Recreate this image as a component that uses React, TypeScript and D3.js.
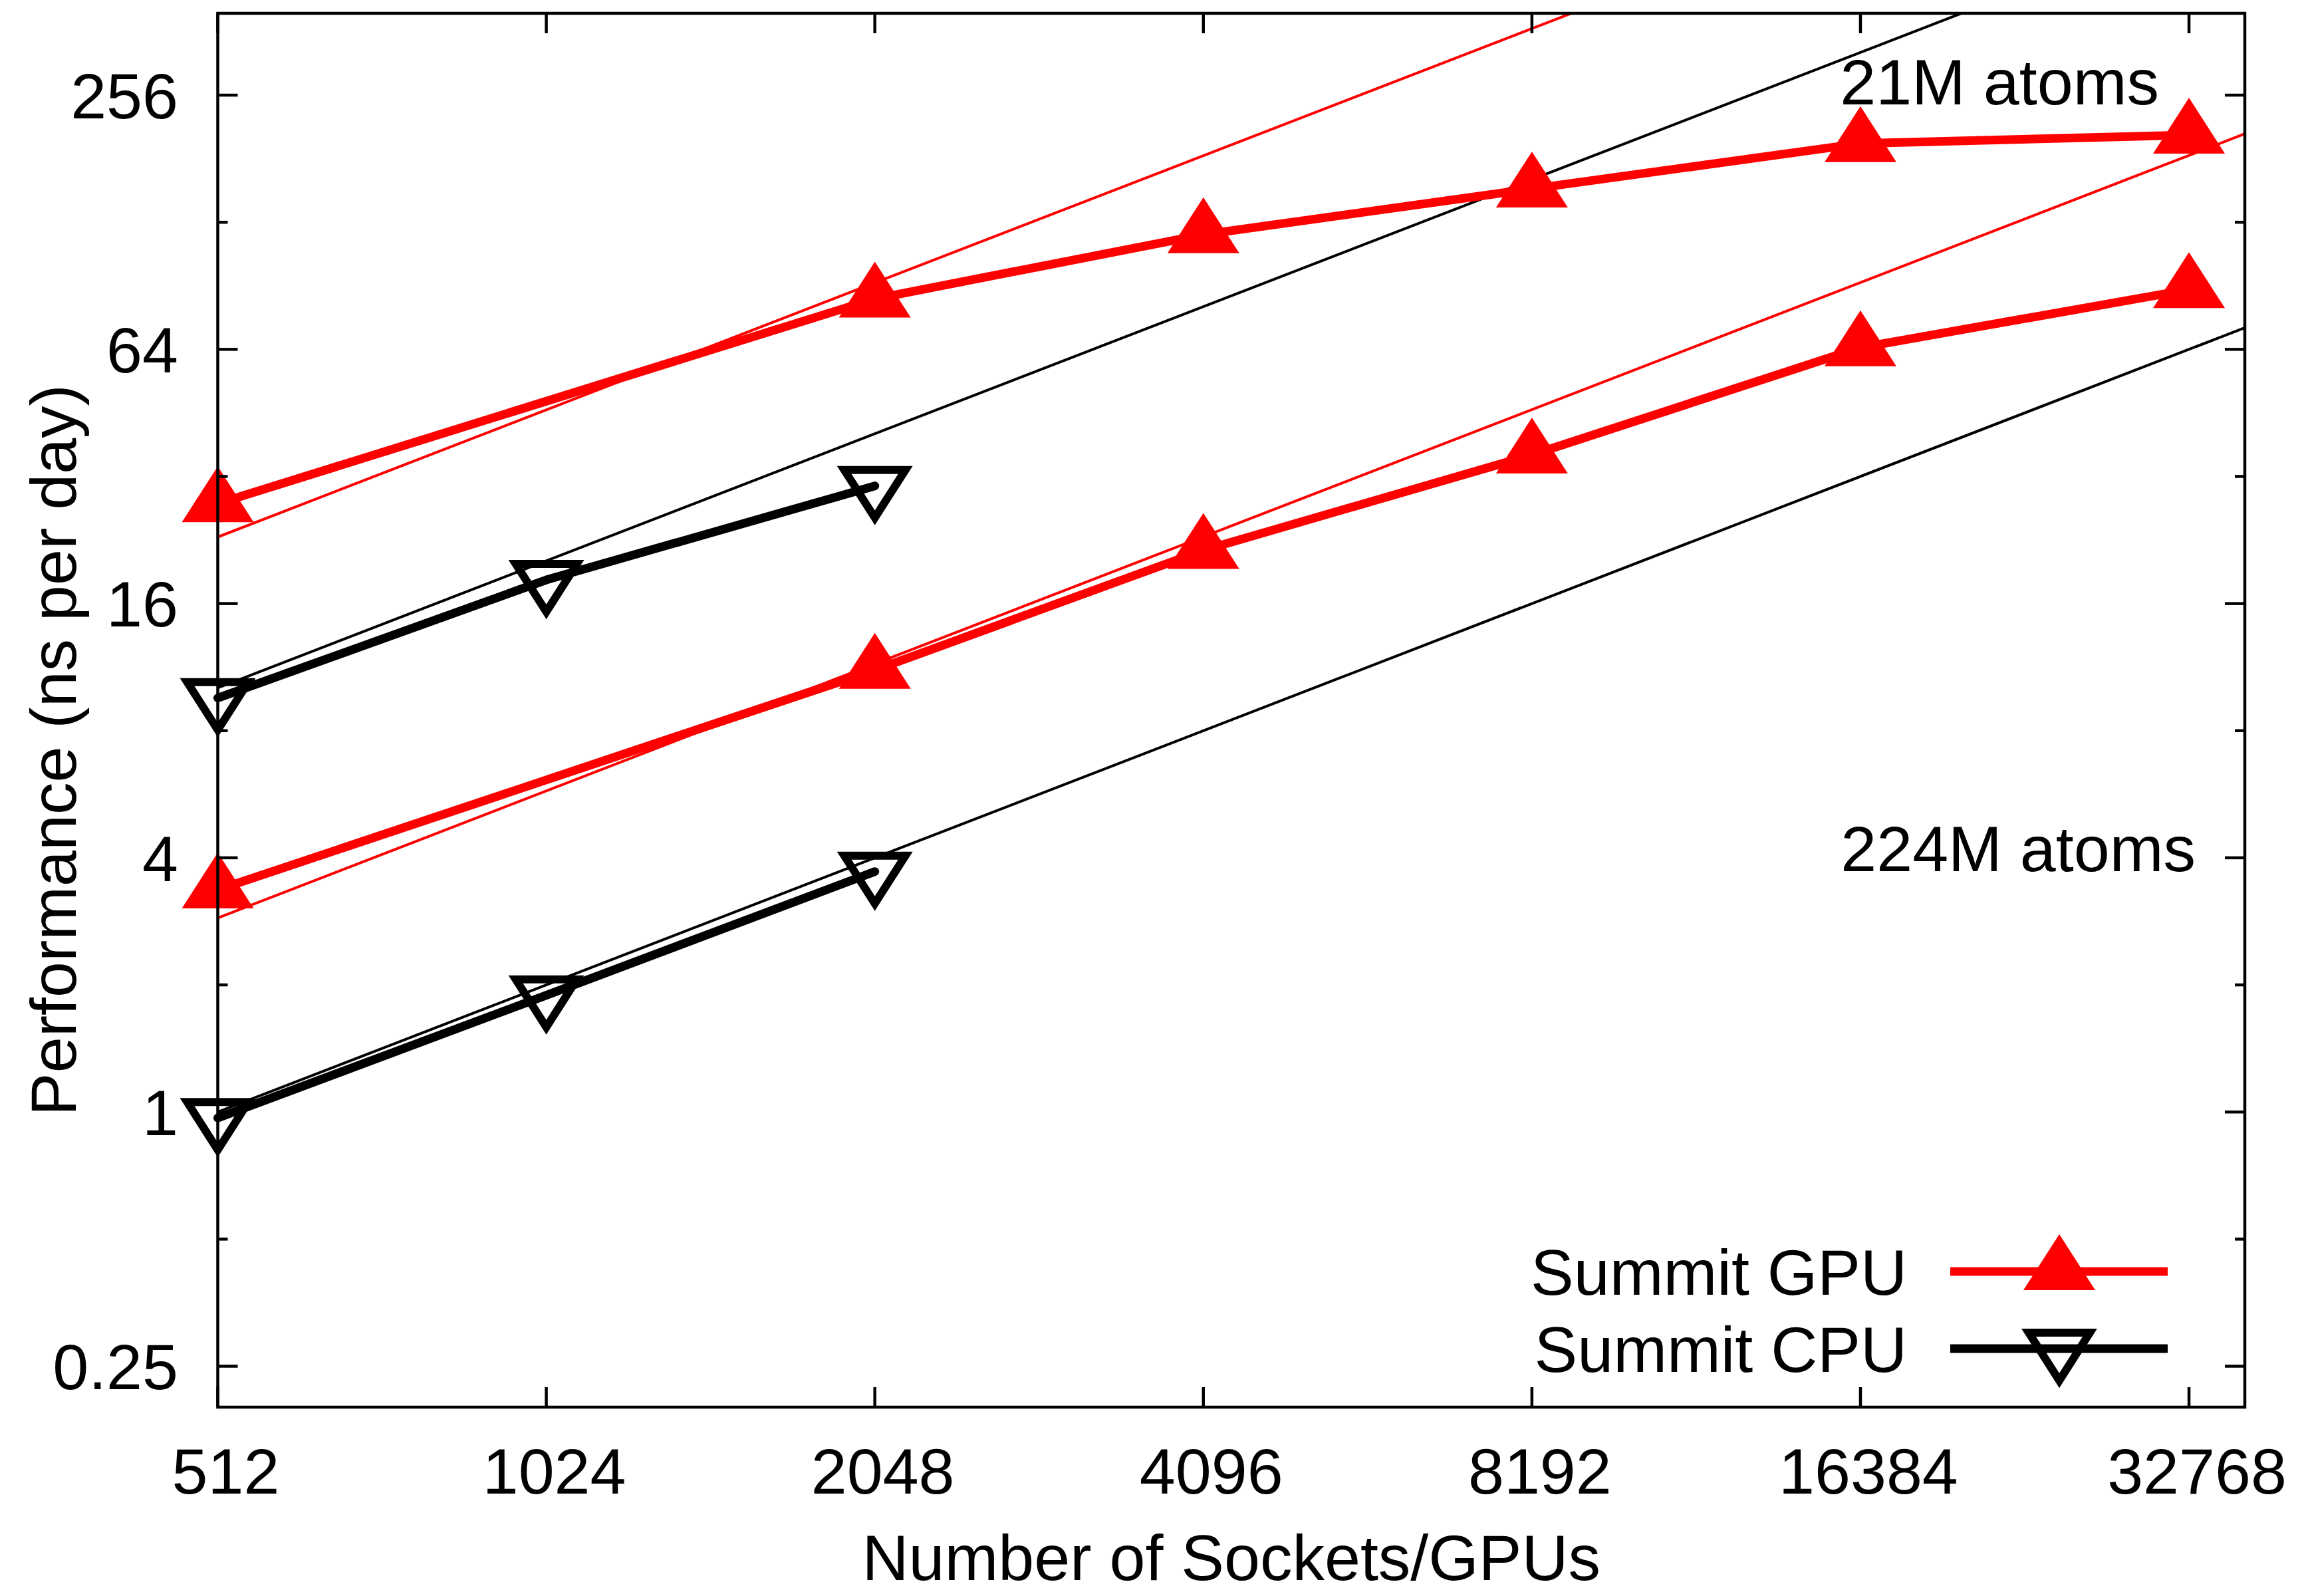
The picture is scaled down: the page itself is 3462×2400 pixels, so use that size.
import React, { useEffect, useRef } from 'react';
import * as d3 from 'd3';

const WIDTH = 3462;
const HEIGHT = 2400;

// measured series (ns per day)
const socketsGpu21M = [512, 2048, 4096, 8192, 16384, 32768];
const gpu21M = [27.6, 84.3, 119.7, 153.6, 196.7, 206];
const socketsCpu21M = [512, 1024, 2048];
const cpu21M = [9.56, 18.2, 30.4];
const socketsGpu224M = [512, 2048, 4096, 8192, 16384, 32768];
const gpu224M = [3.36, 11.13, 21.4, 36.0, 64.6, 88.7];
const socketsCpu224M = [512, 1024, 2048];
const cpu224M = [0.968, 1.89, 3.71];

// perfect scaling reference lines, value at 512
const idealAt512 = [23, 10.1, 2.88, 1.0];
const idealColors = ['#ff0000', '#000000', '#ff0000', '#000000'];

const xTicks = [512, 1024, 2048, 4096, 8192, 16384, 32768];
const yTicks = [0.25, 1, 4, 16, 64, 256];
const yMinorTicks = [0.5, 2, 8, 32, 128];
const xDomain = [512, 36864];
const yDomain = [0.2, 400];

const legendLabels = ['Summit GPU', 'Summit CPU'];
const FONT = '"Liberation Sans", Arial, Helvetica, sans-serif';
const FS = 97;

function ScalingChart(): JSX.Element {
	const ref = useRef<SVGSVGElement | null>(null);
	useEffect(() => {
		if (!ref.current) return;
		const svg = d3.select(ref.current);
		svg.selectAll('*').remove();
		const left = 327.5, right = 3376, top = 20, bottom = 2116;
		const x = d3.scaleLog().base(2).domain(xDomain).range([left, right]);
		const y = d3.scaleLog().base(2).domain(yDomain).range([bottom, top]);
		const lw = 4.5;
		const half = FS * 0.358;

		svg.append('defs').append('clipPath').attr('id', 'plotclip')
			.append('rect').attr('x', left).attr('y', top).attr('width', right - left).attr('height', bottom - top);

		const up = (cx: number, cy: number, w = 54, h = 84) =>
			`M${cx},${cy - (2 * h) / 3}L${cx - w},${cy + h / 3}L${cx + w},${cy + h / 3}Z`;
		const down = (cx: number, cy: number, w = 46, h = 72) =>
			`M${cx},${cy + (2 * h) / 3}L${cx - w},${cy - h / 3}L${cx + w},${cy - h / 3}Z`;

		// ideal lines
		const gi = svg.append('g').attr('clip-path', 'url(#plotclip)');
		idealAt512.forEach((v0, i) => {
			const pts = xDomain.map(n => [n, (v0 * n) / 512]);
			gi.append('path')
				.attr('d', d3.line<number[]>().x(d => x(d[0])).y(d => y(d[1]))(pts) as any)
				.attr('fill', 'none').attr('stroke', idealColors[i]).attr('stroke-width', 4);
		});

		const series = [
			{ xs: socketsGpu21M, ys: gpu21M, color: '#ff0000', gpu: true },
			{ xs: socketsCpu21M, ys: cpu21M, color: '#000000', gpu: false },
			{ xs: socketsGpu224M, ys: gpu224M, color: '#ff0000', gpu: true },
			{ xs: socketsCpu224M, ys: cpu224M, color: '#000000', gpu: false },
		];
		const g = svg.append('g');
		series.forEach(s => {
			const pts = s.xs.map((n, i) => [n, s.ys[i]]);
			g.append('path')
				.attr('d', d3.line<number[]>().x(d => x(d[0])).y(d => y(d[1]))(pts) as any)
				.attr('fill', 'none').attr('stroke', s.color).attr('stroke-width', 13)
				.attr('stroke-linecap', 'round').attr('stroke-linejoin', 'round');
		});
		series.forEach(s => {
			s.xs.forEach((n, i) => {
				if (s.gpu) {
					g.append('path').attr('d', up(x(n), y(s.ys[i]))).attr('fill', s.color);
				} else {
					g.append('path').attr('d', down(x(n), y(s.ys[i])))
						.attr('fill', 'none').attr('stroke', s.color).attr('stroke-width', 12)
						.attr('stroke-linejoin', 'miter');
				}
			});
		});

		// border and ticks
		const ax = svg.append('g').attr('stroke', '#000').attr('stroke-width', lw);
		ax.append('rect').attr('x', left).attr('y', top).attr('width', right - left).attr('height', bottom - top).attr('fill', 'none');
		xTicks.forEach(t => {
			ax.append('line').attr('x1', x(t)).attr('x2', x(t)).attr('y1', bottom).attr('y2', bottom - 30);
			ax.append('line').attr('x1', x(t)).attr('x2', x(t)).attr('y1', top).attr('y2', top + 30);
		});
		yTicks.forEach(t => {
			ax.append('line').attr('x1', left).attr('x2', left + 30).attr('y1', y(t)).attr('y2', y(t));
			ax.append('line').attr('x1', right).attr('x2', right - 30).attr('y1', y(t)).attr('y2', y(t));
		});
		yMinorTicks.forEach(t => {
			ax.append('line').attr('x1', left).attr('x2', left + 15).attr('y1', y(t)).attr('y2', y(t));
			ax.append('line').attr('x1', right).attr('x2', right - 15).attr('y1', y(t)).attr('y2', y(t));
		});

		const txt = svg.append('g').attr('font-family', FONT).attr('font-size', FS).attr('fill', '#000');
		txt.selectAll('text.xt').data(xTicks).enter().append('text')
			.attr('x', d => x(d) + 12).attr('y', 2246).attr('text-anchor', 'middle').text(d => d);
		txt.selectAll('text.yt').data(yTicks).enter().append('text')
			.attr('x', 268).attr('y', d => y(d) + half).attr('text-anchor', 'end').text(d => d);

		txt.append('text').attr('x', (left + right) / 2).attr('y', 2376).attr('text-anchor', 'middle')
			.text('Number of Sockets/GPUs');
		txt.append('text').attr('transform', 'translate(114,1128) rotate(-90)').attr('text-anchor', 'middle')
			.text('Performance (ns per day)');

		txt.append('text').attr('x', 3247).attr('y', 157).attr('text-anchor', 'end').text('21M atoms');
		txt.append('text').attr('x', 3302).attr('y', 1310).attr('text-anchor', 'end').text('224M atoms');

		// legend
		const legendY = [1912, 2028];
		const lg = svg.append('g');
		legendLabels.forEach((lab, i) => {
			const c = i === 0 ? '#ff0000' : '#000000';
			lg.append('text').attr('x', 2868).attr('y', legendY[i] + half).attr('text-anchor', 'end')
				.attr('font-family', FONT).attr('font-size', FS).text(lab);
			lg.append('line').attr('x1', 2933).attr('x2', 3260).attr('y1', legendY[i]).attr('y2', legendY[i])
				.attr('stroke', c).attr('stroke-width', 13);
			if (i === 0) lg.append('path').attr('d', up(3097, legendY[i])).attr('fill', c);
			else lg.append('path').attr('d', down(3097, legendY[i])).attr('fill', 'none').attr('stroke', c).attr('stroke-width', 12);
		});
	}, []);
	return (
		<svg ref={ref} width={WIDTH} height={HEIGHT} viewBox={`0 0 ${WIDTH} ${HEIGHT}`}
			style={{ position: 'absolute', left: 0, top: 0, background: '#fff', display: 'block' }} />
	);
}

export default function App(): JSX.Element {
	return <ScalingChart />;
}
